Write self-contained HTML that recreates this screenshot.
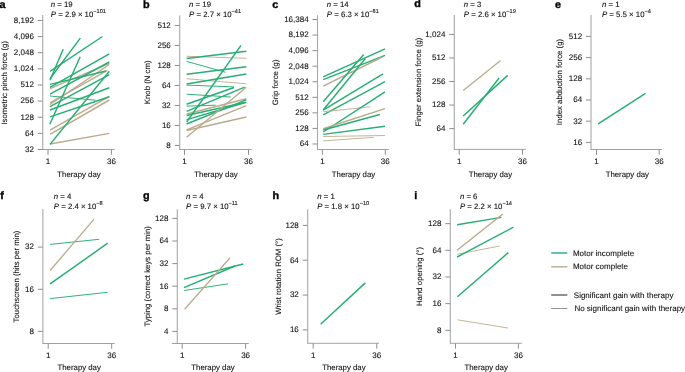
<!DOCTYPE html>
<html><head><meta charset="utf-8"><style>
html,body{margin:0;padding:0;background:#fff;width:685px;height:372px;overflow:hidden}
text{stroke:#111;stroke-width:0.1px}
svg{display:block;font-family:"Liberation Sans",sans-serif;will-change:transform;text-rendering:geometricPrecision}
</style></head><body>
<svg width="685" height="372" viewBox="0 0 685 372">
<rect width="685" height="372" fill="#fff"/>
<text x="-0.4" y="7.6" text-anchor="start" font-size="10.8" font-weight="bold" font-style="normal" fill="#000" style="stroke:#000;stroke-width:0.35px">a</text>
<text x="50.8" y="6.8" font-size="7.8" fill="#111"><tspan font-style="italic">n</tspan> = 19</text>
<text x="50.8" y="16.7" font-size="7.8" fill="#111"><tspan font-style="italic">P</tspan> = 2.9 × 10<tspan font-size="5.6" dy="-3.3">−101</tspan></text>
<line x1="42.75" y1="15" x2="42.75" y2="149.5" stroke="#a8a8a8" stroke-width="1.1"/>
<line x1="42.35" y1="149.5" x2="114.8" y2="149.5" stroke="#8a8a8a" stroke-width="0.8"/>
<line x1="37.75" y1="20.45" x2="42.45" y2="20.45" stroke="#707070" stroke-width="0.8"/>
<text x="33.85" y="22.8" text-anchor="end" font-size="8.0" font-weight="normal" font-style="normal" fill="#111" >8,192</text>
<line x1="37.75" y1="36.58" x2="42.45" y2="36.58" stroke="#707070" stroke-width="0.8"/>
<text x="33.85" y="38.93" text-anchor="end" font-size="8.0" font-weight="normal" font-style="normal" fill="#111" >4,096</text>
<line x1="37.75" y1="52.71" x2="42.45" y2="52.71" stroke="#707070" stroke-width="0.8"/>
<text x="33.85" y="55.06" text-anchor="end" font-size="8.0" font-weight="normal" font-style="normal" fill="#111" >2,048</text>
<line x1="37.75" y1="68.84" x2="42.45" y2="68.84" stroke="#707070" stroke-width="0.8"/>
<text x="33.85" y="71.19" text-anchor="end" font-size="8.0" font-weight="normal" font-style="normal" fill="#111" >1,024</text>
<line x1="37.75" y1="84.97" x2="42.45" y2="84.97" stroke="#707070" stroke-width="0.8"/>
<text x="33.85" y="87.32" text-anchor="end" font-size="8.0" font-weight="normal" font-style="normal" fill="#111" >512</text>
<line x1="37.75" y1="101.1" x2="42.45" y2="101.1" stroke="#707070" stroke-width="0.8"/>
<text x="33.85" y="103.44999999999999" text-anchor="end" font-size="8.0" font-weight="normal" font-style="normal" fill="#111" >256</text>
<line x1="37.75" y1="117.23" x2="42.45" y2="117.23" stroke="#707070" stroke-width="0.8"/>
<text x="33.85" y="119.58" text-anchor="end" font-size="8.0" font-weight="normal" font-style="normal" fill="#111" >128</text>
<line x1="37.75" y1="133.36" x2="42.45" y2="133.36" stroke="#707070" stroke-width="0.8"/>
<text x="33.85" y="135.71" text-anchor="end" font-size="8.0" font-weight="normal" font-style="normal" fill="#111" >64</text>
<line x1="37.75" y1="149.49" x2="42.45" y2="149.49" stroke="#707070" stroke-width="0.8"/>
<text x="33.85" y="151.84" text-anchor="end" font-size="8.0" font-weight="normal" font-style="normal" fill="#111" >32</text>
<line x1="48" y1="149.8" x2="48" y2="154.8" stroke="#707070" stroke-width="0.8"/>
<text x="48" y="164.3" text-anchor="middle" font-size="8.0" font-weight="normal" font-style="normal" fill="#111" >1</text>
<line x1="111.4" y1="149.8" x2="111.4" y2="154.8" stroke="#707070" stroke-width="0.8"/>
<text x="111.4" y="164.3" text-anchor="middle" font-size="8.0" font-weight="normal" font-style="normal" fill="#111" >36</text>
<text x="79" y="176.7" text-anchor="middle" font-size="7.8" font-weight="normal" font-style="normal" fill="#111" >Therapy day</text>
<text transform="translate(6.5,82.8) rotate(-90)" text-anchor="middle" font-size="7.8" fill="#111">Isometric pinch force (g)</text>
<line x1="50" y1="88.6" x2="109.3" y2="63.3" stroke="#bcaa8c" stroke-width="1.45"/>
<line x1="50" y1="102.8" x2="107.4" y2="70.3" stroke="#bcaa8c" stroke-width="1.45"/>
<line x1="50" y1="104.5" x2="109.3" y2="64.5" stroke="#bcaa8c" stroke-width="1.45"/>
<line x1="50" y1="130.2" x2="109.3" y2="96.4" stroke="#bcaa8c" stroke-width="1.45"/>
<line x1="50" y1="134.3" x2="109.3" y2="100.0" stroke="#bcaa8c" stroke-width="1.45"/>
<line x1="50" y1="144.0" x2="109.3" y2="133.4" stroke="#bcaa8c" stroke-width="1.45"/>
<line x1="50" y1="71.3" x2="102.5" y2="36.5" stroke="#27ae74" stroke-width="1.45"/>
<line x1="50" y1="78.7" x2="80.3" y2="38.1" stroke="#27ae74" stroke-width="1.45"/>
<line x1="50" y1="80.2" x2="63.2" y2="49.2" stroke="#27ae74" stroke-width="1.45"/>
<line x1="49.8" y1="124.2" x2="80.2" y2="56.7" stroke="#27ae74" stroke-width="1.45"/>
<line x1="50" y1="87.3" x2="109.3" y2="53.9" stroke="#27ae74" stroke-width="1.45"/>
<line x1="50" y1="84.4" x2="106.0" y2="71.0" stroke="#27ae74" stroke-width="1.45"/>
<line x1="50" y1="94.2" x2="109.3" y2="62.0" stroke="#27ae74" stroke-width="1.45"/>
<line x1="50" y1="96.0" x2="95.6" y2="100.2" stroke="#27ae74" stroke-width="0.95"/>
<line x1="50" y1="106.7" x2="109.3" y2="74.6" stroke="#27ae74" stroke-width="1.45"/>
<line x1="50" y1="110.0" x2="109.3" y2="87.8" stroke="#27ae74" stroke-width="1.45"/>
<line x1="50" y1="116.9" x2="109.3" y2="96.8" stroke="#27ae74" stroke-width="1.45"/>
<line x1="50" y1="144.4" x2="109.3" y2="71.3" stroke="#27ae74" stroke-width="1.45"/>
<text x="142.9" y="7.8" text-anchor="start" font-size="10.8" font-weight="bold" font-style="normal" fill="#000" style="stroke:#000;stroke-width:0.35px">b</text>
<text x="189.1" y="6.8" font-size="7.8" fill="#111"><tspan font-style="italic">n</tspan> = 19</text>
<text x="189.1" y="16.7" font-size="7.8" fill="#111"><tspan font-style="italic">P</tspan> = 2.7 × 10<tspan font-size="5.6" dy="-3.3">−41</tspan></text>
<line x1="179.7" y1="15.5" x2="179.7" y2="149.5" stroke="#a8a8a8" stroke-width="1.1"/>
<line x1="179.29999999999998" y1="149.5" x2="251.7" y2="149.5" stroke="#8a8a8a" stroke-width="0.8"/>
<line x1="174.7" y1="25.46" x2="179.39999999999998" y2="25.46" stroke="#707070" stroke-width="0.8"/>
<text x="170.79999999999998" y="27.810000000000002" text-anchor="end" font-size="8.0" font-weight="normal" font-style="normal" fill="#111" >512</text>
<line x1="174.7" y1="45.46" x2="179.39999999999998" y2="45.46" stroke="#707070" stroke-width="0.8"/>
<text x="170.79999999999998" y="47.81" text-anchor="end" font-size="8.0" font-weight="normal" font-style="normal" fill="#111" >256</text>
<line x1="174.7" y1="65.46" x2="179.39999999999998" y2="65.46" stroke="#707070" stroke-width="0.8"/>
<text x="170.79999999999998" y="67.80999999999999" text-anchor="end" font-size="8.0" font-weight="normal" font-style="normal" fill="#111" >128</text>
<line x1="174.7" y1="85.46" x2="179.39999999999998" y2="85.46" stroke="#707070" stroke-width="0.8"/>
<text x="170.79999999999998" y="87.80999999999999" text-anchor="end" font-size="8.0" font-weight="normal" font-style="normal" fill="#111" >64</text>
<line x1="174.7" y1="105.46" x2="179.39999999999998" y2="105.46" stroke="#707070" stroke-width="0.8"/>
<text x="170.79999999999998" y="107.80999999999999" text-anchor="end" font-size="8.0" font-weight="normal" font-style="normal" fill="#111" >32</text>
<line x1="174.7" y1="125.46" x2="179.39999999999998" y2="125.46" stroke="#707070" stroke-width="0.8"/>
<text x="170.79999999999998" y="127.80999999999999" text-anchor="end" font-size="8.0" font-weight="normal" font-style="normal" fill="#111" >16</text>
<line x1="174.7" y1="145.46" x2="179.39999999999998" y2="145.46" stroke="#707070" stroke-width="0.8"/>
<text x="170.79999999999998" y="147.81" text-anchor="end" font-size="8.0" font-weight="normal" font-style="normal" fill="#111" >8</text>
<line x1="184.5" y1="149.8" x2="184.5" y2="154.8" stroke="#707070" stroke-width="0.8"/>
<text x="184.5" y="164.3" text-anchor="middle" font-size="8.0" font-weight="normal" font-style="normal" fill="#111" >1</text>
<line x1="248.5" y1="149.8" x2="248.5" y2="154.8" stroke="#707070" stroke-width="0.8"/>
<text x="248.5" y="164.3" text-anchor="middle" font-size="8.0" font-weight="normal" font-style="normal" fill="#111" >36</text>
<text x="216" y="176.7" text-anchor="middle" font-size="7.8" font-weight="normal" font-style="normal" fill="#111" >Therapy day</text>
<text transform="translate(150.3,82.3) rotate(-90)" text-anchor="middle" font-size="7.8" fill="#111">Knob (N cm)</text>
<line x1="186.6" y1="56.3" x2="246.3" y2="58.3" stroke="#c2b193" stroke-width="0.95"/>
<line x1="186.6" y1="58.5" x2="246.3" y2="51.3" stroke="#27ae74" stroke-width="1.45"/>
<line x1="186.6" y1="61.4" x2="225.7" y2="72.3" stroke="#27ae74" stroke-width="0.95"/>
<line x1="186.6" y1="74.3" x2="246.3" y2="66.8" stroke="#27ae74" stroke-width="1.45"/>
<line x1="186.6" y1="78.7" x2="246.3" y2="83.8" stroke="#c2b193" stroke-width="0.95"/>
<line x1="186.6" y1="84.0" x2="246.3" y2="74.0" stroke="#27ae74" stroke-width="1.45"/>
<line x1="186.6" y1="85.1" x2="234.0" y2="86.9" stroke="#27ae74" stroke-width="0.95"/>
<line x1="186.6" y1="94.2" x2="230.8" y2="97.0" stroke="#27ae74" stroke-width="0.95"/>
<line x1="186.6" y1="104.3" x2="234.0" y2="87.5" stroke="#27ae74" stroke-width="1.45"/>
<line x1="186.6" y1="106.1" x2="215.7" y2="105.2" stroke="#27ae74" stroke-width="0.95"/>
<line x1="186.6" y1="111.3" x2="244.7" y2="87.2" stroke="#27ae74" stroke-width="1.45"/>
<line x1="186.6" y1="114.0" x2="246.3" y2="98.8" stroke="#bcaa8c" stroke-width="1.45"/>
<line x1="186.6" y1="115.5" x2="244.7" y2="102.5" stroke="#27ae74" stroke-width="1.45"/>
<line x1="186.6" y1="119.6" x2="246.3" y2="102.2" stroke="#27ae74" stroke-width="1.45"/>
<line x1="186.6" y1="122.0" x2="241.0" y2="45.4" stroke="#27ae74" stroke-width="1.45"/>
<line x1="186.6" y1="124.0" x2="246.3" y2="99.8" stroke="#27ae74" stroke-width="1.45"/>
<line x1="186.6" y1="129.9" x2="246.3" y2="105.7" stroke="#bcaa8c" stroke-width="1.45"/>
<line x1="186.6" y1="130.5" x2="246.3" y2="117.0" stroke="#bcaa8c" stroke-width="1.45"/>
<line x1="186.6" y1="137.3" x2="246.3" y2="87.2" stroke="#bcaa8c" stroke-width="1.45"/>
<text x="272.3" y="7.6" text-anchor="start" font-size="10.8" font-weight="bold" font-style="normal" fill="#000" style="stroke:#000;stroke-width:0.35px">c</text>
<text x="326.8" y="6.8" font-size="7.8" fill="#111"><tspan font-style="italic">n</tspan> = 14</text>
<text x="326.8" y="16.7" font-size="7.8" fill="#111"><tspan font-style="italic">P</tspan> = 6.3 × 10<tspan font-size="5.6" dy="-3.3">−61</tspan></text>
<line x1="317.5" y1="15.2" x2="317.5" y2="149.5" stroke="#a8a8a8" stroke-width="1.1"/>
<line x1="317.1" y1="149.5" x2="388.8" y2="149.5" stroke="#8a8a8a" stroke-width="0.8"/>
<line x1="312.5" y1="19.5" x2="317.2" y2="19.5" stroke="#707070" stroke-width="0.8"/>
<text x="308.6" y="21.85" text-anchor="end" font-size="8.0" font-weight="normal" font-style="normal" fill="#111" >16,384</text>
<line x1="312.5" y1="35.06" x2="317.2" y2="35.06" stroke="#707070" stroke-width="0.8"/>
<text x="308.6" y="37.410000000000004" text-anchor="end" font-size="8.0" font-weight="normal" font-style="normal" fill="#111" >8,192</text>
<line x1="312.5" y1="50.62" x2="317.2" y2="50.62" stroke="#707070" stroke-width="0.8"/>
<text x="308.6" y="52.97" text-anchor="end" font-size="8.0" font-weight="normal" font-style="normal" fill="#111" >4,096</text>
<line x1="312.5" y1="66.18" x2="317.2" y2="66.18" stroke="#707070" stroke-width="0.8"/>
<text x="308.6" y="68.53" text-anchor="end" font-size="8.0" font-weight="normal" font-style="normal" fill="#111" >2,048</text>
<line x1="312.5" y1="81.74" x2="317.2" y2="81.74" stroke="#707070" stroke-width="0.8"/>
<text x="308.6" y="84.08999999999999" text-anchor="end" font-size="8.0" font-weight="normal" font-style="normal" fill="#111" >1,024</text>
<line x1="312.5" y1="97.3" x2="317.2" y2="97.3" stroke="#707070" stroke-width="0.8"/>
<text x="308.6" y="99.64999999999999" text-anchor="end" font-size="8.0" font-weight="normal" font-style="normal" fill="#111" >512</text>
<line x1="312.5" y1="112.86" x2="317.2" y2="112.86" stroke="#707070" stroke-width="0.8"/>
<text x="308.6" y="115.21" text-anchor="end" font-size="8.0" font-weight="normal" font-style="normal" fill="#111" >256</text>
<line x1="312.5" y1="128.42" x2="317.2" y2="128.42" stroke="#707070" stroke-width="0.8"/>
<text x="308.6" y="130.76999999999998" text-anchor="end" font-size="8.0" font-weight="normal" font-style="normal" fill="#111" >128</text>
<line x1="312.5" y1="143.98" x2="317.2" y2="143.98" stroke="#707070" stroke-width="0.8"/>
<text x="308.6" y="146.32999999999998" text-anchor="end" font-size="8.0" font-weight="normal" font-style="normal" fill="#111" >64</text>
<line x1="322.4" y1="149.8" x2="322.4" y2="154.8" stroke="#707070" stroke-width="0.8"/>
<text x="322.4" y="164.3" text-anchor="middle" font-size="8.0" font-weight="normal" font-style="normal" fill="#111" >1</text>
<line x1="385.3" y1="149.8" x2="385.3" y2="154.8" stroke="#707070" stroke-width="0.8"/>
<text x="385.3" y="164.3" text-anchor="middle" font-size="8.0" font-weight="normal" font-style="normal" fill="#111" >36</text>
<text x="353.5" y="176.7" text-anchor="middle" font-size="7.8" font-weight="normal" font-style="normal" fill="#111" >Therapy day</text>
<text transform="translate(278.2,82.4) rotate(-90)" text-anchor="middle" font-size="7.8" fill="#111">Grip force (g)</text>
<line x1="323.2" y1="76.8" x2="385" y2="48.9" stroke="#27ae74" stroke-width="1.45"/>
<line x1="323.2" y1="79.7" x2="385" y2="55.3" stroke="#27ae74" stroke-width="1.45"/>
<line x1="323.2" y1="86.2" x2="382.3" y2="57" stroke="#bcaa8c" stroke-width="1.45"/>
<line x1="323.2" y1="101.8" x2="363.7" y2="54.5" stroke="#27ae74" stroke-width="1.45"/>
<line x1="323.2" y1="110.0" x2="365.3" y2="58.5" stroke="#27ae74" stroke-width="1.45"/>
<line x1="323.2" y1="110.2" x2="383" y2="73.9" stroke="#27ae74" stroke-width="1.45"/>
<line x1="323.2" y1="114.8" x2="385" y2="81.6" stroke="#27ae74" stroke-width="1.45"/>
<line x1="323.2" y1="111.8" x2="370.5" y2="106.8" stroke="#c2b193" stroke-width="0.95"/>
<line x1="323.2" y1="132.0" x2="385" y2="91.9" stroke="#27ae74" stroke-width="1.45"/>
<line x1="323.2" y1="128.7" x2="385" y2="108.6" stroke="#bcaa8c" stroke-width="1.45"/>
<line x1="323.2" y1="130.0" x2="379.8" y2="114.5" stroke="#27ae74" stroke-width="1.45"/>
<line x1="323.2" y1="134.4" x2="385" y2="126.3" stroke="#27ae74" stroke-width="1.45"/>
<line x1="323.2" y1="136.5" x2="385" y2="135.5" stroke="#c2b193" stroke-width="0.95"/>
<line x1="323.2" y1="140.9" x2="373.7" y2="137.3" stroke="#c2b193" stroke-width="0.95"/>
<text x="414.3" y="7" text-anchor="start" font-size="10.8" font-weight="bold" font-style="normal" fill="#000" style="stroke:#000;stroke-width:0.35px">d</text>
<text x="463.8" y="6.8" font-size="7.8" fill="#111"><tspan font-style="italic">n</tspan> = 3</text>
<text x="463.8" y="16.7" font-size="7.8" fill="#111"><tspan font-style="italic">P</tspan> = 2.6 × 10<tspan font-size="5.6" dy="-3.3">−19</tspan></text>
<line x1="454.3" y1="15" x2="454.3" y2="149.4" stroke="#a8a8a8" stroke-width="1.1"/>
<line x1="453.90000000000003" y1="149.4" x2="525.8" y2="149.4" stroke="#8a8a8a" stroke-width="0.8"/>
<line x1="449.3" y1="34.46" x2="454.0" y2="34.46" stroke="#707070" stroke-width="0.8"/>
<text x="445.40000000000003" y="36.81" text-anchor="end" font-size="8.0" font-weight="normal" font-style="normal" fill="#111" >1,024</text>
<line x1="449.3" y1="57.99" x2="454.0" y2="57.99" stroke="#707070" stroke-width="0.8"/>
<text x="445.40000000000003" y="60.34" text-anchor="end" font-size="8.0" font-weight="normal" font-style="normal" fill="#111" >512</text>
<line x1="449.3" y1="81.52" x2="454.0" y2="81.52" stroke="#707070" stroke-width="0.8"/>
<text x="445.40000000000003" y="83.86999999999999" text-anchor="end" font-size="8.0" font-weight="normal" font-style="normal" fill="#111" >256</text>
<line x1="449.3" y1="105.05" x2="454.0" y2="105.05" stroke="#707070" stroke-width="0.8"/>
<text x="445.40000000000003" y="107.39999999999999" text-anchor="end" font-size="8.0" font-weight="normal" font-style="normal" fill="#111" >128</text>
<line x1="449.3" y1="128.58" x2="454.0" y2="128.58" stroke="#707070" stroke-width="0.8"/>
<text x="445.40000000000003" y="130.93" text-anchor="end" font-size="8.0" font-weight="normal" font-style="normal" fill="#111" >64</text>
<line x1="459.2" y1="149.70000000000002" x2="459.2" y2="154.70000000000002" stroke="#707070" stroke-width="0.8"/>
<text x="459.2" y="164.20000000000002" text-anchor="middle" font-size="8.0" font-weight="normal" font-style="normal" fill="#111" >1</text>
<line x1="522.5" y1="149.70000000000002" x2="522.5" y2="154.70000000000002" stroke="#707070" stroke-width="0.8"/>
<text x="522.5" y="164.20000000000002" text-anchor="middle" font-size="8.0" font-weight="normal" font-style="normal" fill="#111" >36</text>
<text x="490.4" y="176.6" text-anchor="middle" font-size="7.8" font-weight="normal" font-style="normal" fill="#111" >Therapy day</text>
<text transform="translate(420.5,82) rotate(-90)" text-anchor="middle" font-size="7.8" fill="#111">Finger extension force (g)</text>
<line x1="463.2" y1="90.4" x2="500.6" y2="60.5" stroke="#bcaa8c" stroke-width="1.3"/>
<line x1="463.2" y1="116.0" x2="507.7" y2="75.4" stroke="#27ae74" stroke-width="1.45"/>
<line x1="463.2" y1="124.2" x2="499.1" y2="78.0" stroke="#27ae74" stroke-width="1.45"/>
<text x="555" y="7.5" text-anchor="start" font-size="10.8" font-weight="bold" font-style="normal" fill="#000" style="stroke:#000;stroke-width:0.35px">e</text>
<text x="602" y="6.8" font-size="7.8" fill="#111"><tspan font-style="italic">n</tspan> = 1</text>
<text x="602" y="16.7" font-size="7.8" fill="#111"><tspan font-style="italic">P</tspan> = 5.5 × 10<tspan font-size="5.6" dy="-3.3">−4</tspan></text>
<line x1="591.0" y1="15" x2="591.0" y2="149.5" stroke="#a8a8a8" stroke-width="1.1"/>
<line x1="590.6" y1="149.5" x2="662" y2="149.5" stroke="#8a8a8a" stroke-width="0.8"/>
<line x1="586.0" y1="36.4" x2="590.7" y2="36.4" stroke="#707070" stroke-width="0.8"/>
<text x="582.1" y="38.75" text-anchor="end" font-size="8.0" font-weight="normal" font-style="normal" fill="#111" >512</text>
<line x1="586.0" y1="57.6" x2="590.7" y2="57.6" stroke="#707070" stroke-width="0.8"/>
<text x="582.1" y="59.95" text-anchor="end" font-size="8.0" font-weight="normal" font-style="normal" fill="#111" >256</text>
<line x1="586.0" y1="78.8" x2="590.7" y2="78.8" stroke="#707070" stroke-width="0.8"/>
<text x="582.1" y="81.14999999999999" text-anchor="end" font-size="8.0" font-weight="normal" font-style="normal" fill="#111" >128</text>
<line x1="586.0" y1="100.0" x2="590.7" y2="100.0" stroke="#707070" stroke-width="0.8"/>
<text x="582.1" y="102.35" text-anchor="end" font-size="8.0" font-weight="normal" font-style="normal" fill="#111" >64</text>
<line x1="586.0" y1="121.2" x2="590.7" y2="121.2" stroke="#707070" stroke-width="0.8"/>
<text x="582.1" y="123.55" text-anchor="end" font-size="8.0" font-weight="normal" font-style="normal" fill="#111" >32</text>
<line x1="586.0" y1="142.4" x2="590.7" y2="142.4" stroke="#707070" stroke-width="0.8"/>
<text x="582.1" y="144.75" text-anchor="end" font-size="8.0" font-weight="normal" font-style="normal" fill="#111" >16</text>
<line x1="596.5" y1="149.8" x2="596.5" y2="154.8" stroke="#707070" stroke-width="0.8"/>
<text x="596.5" y="164.3" text-anchor="middle" font-size="8.0" font-weight="normal" font-style="normal" fill="#111" >1</text>
<line x1="659.2" y1="149.8" x2="659.2" y2="154.8" stroke="#707070" stroke-width="0.8"/>
<text x="659.2" y="164.3" text-anchor="middle" font-size="8.0" font-weight="normal" font-style="normal" fill="#111" >36</text>
<text x="627.3" y="176.7" text-anchor="middle" font-size="7.8" font-weight="normal" font-style="normal" fill="#111" >Therapy day</text>
<text transform="translate(562,82) rotate(-90)" text-anchor="middle" font-size="7.8" fill="#111">Index abduction force (g)</text>
<line x1="598.1" y1="123.9" x2="645.5" y2="93.3" stroke="#27ae74" stroke-width="1.45"/>
<text x="0.3" y="198.8" text-anchor="start" font-size="10.8" font-weight="bold" font-style="normal" fill="#000" style="stroke:#000;stroke-width:0.35px">f</text>
<text x="53.8" y="198.6" font-size="7.8" fill="#111"><tspan font-style="italic">n</tspan> = 4</text>
<text x="53.8" y="208.5" font-size="7.8" fill="#111"><tspan font-style="italic">P</tspan> = 2.4 × 10<tspan font-size="5.6" dy="-3.3">−8</tspan></text>
<line x1="42.9" y1="209.3" x2="42.9" y2="343.5" stroke="#a8a8a8" stroke-width="1.1"/>
<line x1="42.5" y1="343.5" x2="114.6" y2="343.5" stroke="#8a8a8a" stroke-width="0.8"/>
<line x1="37.9" y1="247.1" x2="42.6" y2="247.1" stroke="#707070" stroke-width="0.8"/>
<text x="34.0" y="249.45" text-anchor="end" font-size="8.0" font-weight="normal" font-style="normal" fill="#111" >32</text>
<line x1="37.9" y1="289.25" x2="42.6" y2="289.25" stroke="#707070" stroke-width="0.8"/>
<text x="34.0" y="291.6" text-anchor="end" font-size="8.0" font-weight="normal" font-style="normal" fill="#111" >16</text>
<line x1="37.9" y1="331.4" x2="42.6" y2="331.4" stroke="#707070" stroke-width="0.8"/>
<text x="34.0" y="333.75" text-anchor="end" font-size="8.0" font-weight="normal" font-style="normal" fill="#111" >8</text>
<line x1="48.2" y1="343.8" x2="48.2" y2="348.8" stroke="#707070" stroke-width="0.8"/>
<text x="48.2" y="357.7" text-anchor="middle" font-size="8.0" font-weight="normal" font-style="normal" fill="#111" >1</text>
<line x1="111.7" y1="343.8" x2="111.7" y2="348.8" stroke="#707070" stroke-width="0.8"/>
<text x="111.7" y="357.7" text-anchor="middle" font-size="8.0" font-weight="normal" font-style="normal" fill="#111" >36</text>
<text x="79.2" y="370.0" text-anchor="middle" font-size="7.8" font-weight="normal" font-style="normal" fill="#111" >Therapy day</text>
<text transform="translate(18.5,276.5) rotate(-90)" text-anchor="middle" font-size="7.8" fill="#111">Touchscreen (hits per min)</text>
<line x1="50.1" y1="244.4" x2="99.2" y2="239.3" stroke="#27ae74" stroke-width="0.95"/>
<line x1="50.1" y1="270.5" x2="94.1" y2="219.2" stroke="#bcaa8c" stroke-width="1.3"/>
<line x1="50.1" y1="283.9" x2="107.7" y2="243.2" stroke="#27ae74" stroke-width="1.45"/>
<line x1="50.1" y1="298.6" x2="107.7" y2="292.3" stroke="#27ae74" stroke-width="0.95"/>
<text x="143" y="198.9" text-anchor="start" font-size="10.8" font-weight="bold" font-style="normal" fill="#000" style="stroke:#000;stroke-width:0.35px">g</text>
<text x="186.1" y="198.6" font-size="7.8" fill="#111"><tspan font-style="italic">n</tspan> = 4</text>
<text x="186.1" y="208.5" font-size="7.8" fill="#111"><tspan font-style="italic">P</tspan> = 9.7 × 10<tspan font-size="5.6" dy="-3.3">−11</tspan></text>
<line x1="177.3" y1="209.2" x2="177.3" y2="343.5" stroke="#a8a8a8" stroke-width="1.1"/>
<line x1="171.9" y1="343.5" x2="248.8" y2="343.5" stroke="#8a8a8a" stroke-width="0.8"/>
<line x1="172.3" y1="218.4" x2="177.0" y2="218.4" stroke="#707070" stroke-width="0.8"/>
<text x="168.4" y="220.75" text-anchor="end" font-size="8.0" font-weight="normal" font-style="normal" fill="#111" >128</text>
<line x1="172.3" y1="241.0" x2="177.0" y2="241.0" stroke="#707070" stroke-width="0.8"/>
<text x="168.4" y="243.35" text-anchor="end" font-size="8.0" font-weight="normal" font-style="normal" fill="#111" >64</text>
<line x1="172.3" y1="263.6" x2="177.0" y2="263.6" stroke="#707070" stroke-width="0.8"/>
<text x="168.4" y="265.95000000000005" text-anchor="end" font-size="8.0" font-weight="normal" font-style="normal" fill="#111" >32</text>
<line x1="172.3" y1="286.2" x2="177.0" y2="286.2" stroke="#707070" stroke-width="0.8"/>
<text x="168.4" y="288.55" text-anchor="end" font-size="8.0" font-weight="normal" font-style="normal" fill="#111" >16</text>
<line x1="172.3" y1="308.8" x2="177.0" y2="308.8" stroke="#707070" stroke-width="0.8"/>
<text x="168.4" y="311.15000000000003" text-anchor="end" font-size="8.0" font-weight="normal" font-style="normal" fill="#111" >8</text>
<line x1="172.3" y1="331.4" x2="177.0" y2="331.4" stroke="#707070" stroke-width="0.8"/>
<text x="168.4" y="333.75" text-anchor="end" font-size="8.0" font-weight="normal" font-style="normal" fill="#111" >4</text>
<line x1="182.2" y1="343.8" x2="182.2" y2="348.8" stroke="#707070" stroke-width="0.8"/>
<text x="182.2" y="357.7" text-anchor="middle" font-size="8.0" font-weight="normal" font-style="normal" fill="#111" >1</text>
<line x1="245.6" y1="343.8" x2="245.6" y2="348.8" stroke="#707070" stroke-width="0.8"/>
<text x="245.6" y="357.7" text-anchor="middle" font-size="8.0" font-weight="normal" font-style="normal" fill="#111" >36</text>
<text x="213" y="370.0" text-anchor="middle" font-size="7.8" font-weight="normal" font-style="normal" fill="#111" >Therapy day</text>
<text transform="translate(150,276.3) rotate(-90)" text-anchor="middle" font-size="7.8" fill="#111">Typing (correct keys per min)</text>
<line x1="184" y1="279.1" x2="243.2" y2="264.0" stroke="#27ae74" stroke-width="1.45"/>
<line x1="184" y1="287.7" x2="235" y2="266.0" stroke="#27ae74" stroke-width="1.45"/>
<line x1="184" y1="290.5" x2="227.9" y2="283.9" stroke="#27ae74" stroke-width="0.95"/>
<line x1="184.6" y1="309.2" x2="230.1" y2="257.8" stroke="#bcaa8c" stroke-width="1.3"/>
<text x="272.4" y="198.9" text-anchor="start" font-size="10.8" font-weight="bold" font-style="normal" fill="#000" style="stroke:#000;stroke-width:0.35px">h</text>
<text x="317.2" y="198.6" font-size="7.8" fill="#111"><tspan font-style="italic">n</tspan> = 1</text>
<text x="317.2" y="208.5" font-size="7.8" fill="#111"><tspan font-style="italic">P</tspan> = 1.8 × 10<tspan font-size="5.6" dy="-3.3">−10</tspan></text>
<line x1="307.7" y1="209.3" x2="307.7" y2="343.3" stroke="#a8a8a8" stroke-width="1.1"/>
<line x1="307.3" y1="343.3" x2="379" y2="343.3" stroke="#8a8a8a" stroke-width="0.8"/>
<line x1="302.7" y1="225.4" x2="307.4" y2="225.4" stroke="#707070" stroke-width="0.8"/>
<text x="298.8" y="227.75" text-anchor="end" font-size="8.0" font-weight="normal" font-style="normal" fill="#111" >128</text>
<line x1="302.7" y1="260.23" x2="307.4" y2="260.23" stroke="#707070" stroke-width="0.8"/>
<text x="298.8" y="262.58000000000004" text-anchor="end" font-size="8.0" font-weight="normal" font-style="normal" fill="#111" >64</text>
<line x1="302.7" y1="295.06" x2="307.4" y2="295.06" stroke="#707070" stroke-width="0.8"/>
<text x="298.8" y="297.41" text-anchor="end" font-size="8.0" font-weight="normal" font-style="normal" fill="#111" >32</text>
<line x1="302.7" y1="329.89" x2="307.4" y2="329.89" stroke="#707070" stroke-width="0.8"/>
<text x="298.8" y="332.24" text-anchor="end" font-size="8.0" font-weight="normal" font-style="normal" fill="#111" >16</text>
<line x1="313.2" y1="343.6" x2="313.2" y2="348.6" stroke="#707070" stroke-width="0.8"/>
<text x="313.2" y="357.5" text-anchor="middle" font-size="8.0" font-weight="normal" font-style="normal" fill="#111" >1</text>
<line x1="376.8" y1="343.6" x2="376.8" y2="348.6" stroke="#707070" stroke-width="0.8"/>
<text x="376.8" y="357.5" text-anchor="middle" font-size="8.0" font-weight="normal" font-style="normal" fill="#111" >36</text>
<text x="343.9" y="369.8" text-anchor="middle" font-size="7.8" font-weight="normal" font-style="normal" fill="#111" >Therapy day</text>
<text transform="translate(281,276.5) rotate(-90)" text-anchor="middle" font-size="7.8" fill="#111">Wrist rotation ROM (°)</text>
<line x1="320.6" y1="324.2" x2="365.3" y2="282.9" stroke="#27ae74" stroke-width="1.45"/>
<text x="414.3" y="198.9" text-anchor="start" font-size="10.8" font-weight="bold" font-style="normal" fill="#000" style="stroke:#000;stroke-width:0.35px">i</text>
<text x="459.9" y="198.6" font-size="7.8" fill="#111"><tspan font-style="italic">n</tspan> = 6</text>
<text x="459.9" y="208.5" font-size="7.8" fill="#111"><tspan font-style="italic">P</tspan> = 2.2 × 10<tspan font-size="5.6" dy="-3.3">−14</tspan></text>
<line x1="450.3" y1="209.3" x2="450.3" y2="343.3" stroke="#a8a8a8" stroke-width="1.1"/>
<line x1="449.90000000000003" y1="343.3" x2="521.9" y2="343.3" stroke="#8a8a8a" stroke-width="0.8"/>
<line x1="445.3" y1="223.66" x2="450.0" y2="223.66" stroke="#707070" stroke-width="0.8"/>
<text x="441.40000000000003" y="226.01" text-anchor="end" font-size="8.0" font-weight="normal" font-style="normal" fill="#111" >128</text>
<line x1="445.3" y1="250.32" x2="450.0" y2="250.32" stroke="#707070" stroke-width="0.8"/>
<text x="441.40000000000003" y="252.67" text-anchor="end" font-size="8.0" font-weight="normal" font-style="normal" fill="#111" >64</text>
<line x1="445.3" y1="276.98" x2="450.0" y2="276.98" stroke="#707070" stroke-width="0.8"/>
<text x="441.40000000000003" y="279.33000000000004" text-anchor="end" font-size="8.0" font-weight="normal" font-style="normal" fill="#111" >32</text>
<line x1="445.3" y1="303.64" x2="450.0" y2="303.64" stroke="#707070" stroke-width="0.8"/>
<text x="441.40000000000003" y="305.99" text-anchor="end" font-size="8.0" font-weight="normal" font-style="normal" fill="#111" >16</text>
<line x1="445.3" y1="330.3" x2="450.0" y2="330.3" stroke="#707070" stroke-width="0.8"/>
<text x="441.40000000000003" y="332.65000000000003" text-anchor="end" font-size="8.0" font-weight="normal" font-style="normal" fill="#111" >8</text>
<line x1="455.5" y1="343.6" x2="455.5" y2="348.6" stroke="#707070" stroke-width="0.8"/>
<text x="455.5" y="357.5" text-anchor="middle" font-size="8.0" font-weight="normal" font-style="normal" fill="#111" >1</text>
<line x1="518.4" y1="343.6" x2="518.4" y2="348.6" stroke="#707070" stroke-width="0.8"/>
<text x="518.4" y="357.5" text-anchor="middle" font-size="8.0" font-weight="normal" font-style="normal" fill="#111" >36</text>
<text x="486.2" y="369.8" text-anchor="middle" font-size="7.8" font-weight="normal" font-style="normal" fill="#111" >Therapy day</text>
<text transform="translate(422,276.5) rotate(-90)" text-anchor="middle" font-size="7.8" fill="#111">Hand opening (°)</text>
<line x1="457.1" y1="224.8" x2="501.4" y2="217.4" stroke="#27ae74" stroke-width="1.45"/>
<line x1="457.1" y1="250.3" x2="502.8" y2="214.0" stroke="#bcaa8c" stroke-width="1.45"/>
<line x1="457.1" y1="254.3" x2="499.7" y2="246.0" stroke="#c2b193" stroke-width="0.95"/>
<line x1="457.1" y1="257.0" x2="513.5" y2="227.1" stroke="#27ae74" stroke-width="1.45"/>
<line x1="457.4" y1="296.8" x2="508.3" y2="252.6" stroke="#27ae74" stroke-width="1.45"/>
<line x1="457.4" y1="319.8" x2="508.0" y2="328.0" stroke="#c2b193" stroke-width="0.95"/>
<line x1="551.2" y1="253" x2="567.3" y2="253" stroke="#27ae74" stroke-width="1.4"/>
<text x="572.9" y="255.5" text-anchor="start" font-size="8" font-weight="normal" font-style="normal" fill="#111" >Motor incomplete</text>
<line x1="551.2" y1="266.8" x2="567.3" y2="266.8" stroke="#bcaa8c" stroke-width="1.4"/>
<text x="572.9" y="269.3" text-anchor="start" font-size="8" font-weight="normal" font-style="normal" fill="#111" >Motor complete</text>
<line x1="551.2" y1="295" x2="567.3" y2="295" stroke="#3c3c3c" stroke-width="1.15"/>
<text x="573.8" y="297.7" text-anchor="start" font-size="8" font-weight="normal" font-style="normal" fill="#111" >Significant gain with therapy</text>
<line x1="551.2" y1="308.5" x2="567.3" y2="308.5" stroke="#808080" stroke-width="0.85"/>
<text x="574.4" y="311" text-anchor="start" font-size="8" font-weight="normal" font-style="normal" fill="#111" >No significant gain with therapy</text>
</svg>
</body></html>
